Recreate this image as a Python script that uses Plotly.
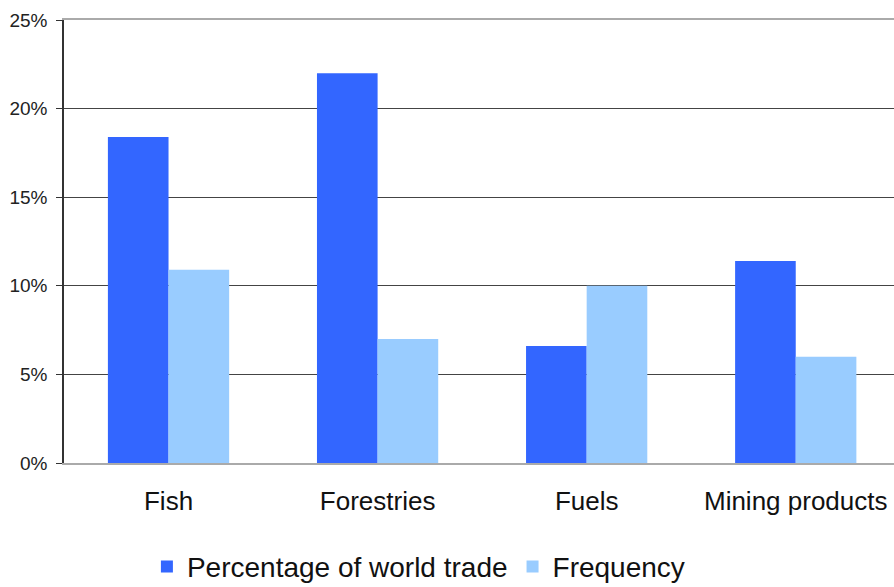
import plotly.graph_objects as go

categories = ["Fish", "Forestries", "Fuels", "Mining products"]
world_trade = [18.4, 22.0, 6.6, 11.4]
frequency = [10.9, 7.0, 10.0, 6.0]
series_names = ["Percentage of world trade", "Frequency"]
y_ticks = [0, 5, 10, 15, 20, 25]
y_tick_labels = ["0%", "5%", "10%", "15%", "20%", "25%"]

font_family = "Liberation Sans, Arial, sans-serif"

fig = go.Figure()
fig.add_trace(go.Bar(x=categories, y=world_trade, name=series_names[0],
                     marker=dict(color="#3366FF", line=dict(width=0))))
fig.add_trace(go.Bar(x=categories, y=frequency, name=series_names[1],
                     marker=dict(color="#99CCFF", line=dict(width=0))))

fig.update_layout(
    width=894, height=587,
    margin=dict(l=64, r=0, t=20, b=124, autoexpand=False),
    paper_bgcolor="white", plot_bgcolor="white",
    barmode="group", bargap=0.42, bargroupgap=0,
    font=dict(family=font_family, color="#111"),
    showlegend=True,
    legend=dict(orientation="h", x=0.427, xanchor="center", y=-0.178, yanchor="top",
                font=dict(size=28, color="#111"), traceorder="normal",
                itemwidth=30),
)
fig.update_xaxes(range=[-0.5, 3.47], showgrid=False, showline=True, linecolor="#aaaaaa",
                 linewidth=1.5, mirror=True, ticks="", tickfont=dict(size=26, color="#111"),
                 ticklabelstandoff=14, automargin=False)
fig.update_yaxes(range=[0, 25], tickvals=y_ticks, ticktext=y_tick_labels,
                 showgrid=True, gridcolor="#444444", gridwidth=1,
                 zeroline=False, showline=True, linecolor="#333333", linewidth=1.5,
                 ticks="outside", ticklen=6, tickcolor="#333333",
                 tickfont=dict(size=19, color="#222"), ticklabelstandoff=5,
                 automargin=False)

fig.write_html("out.html", config={"displayModeBar": False},
               post_script="document.body.style.margin='0';")
